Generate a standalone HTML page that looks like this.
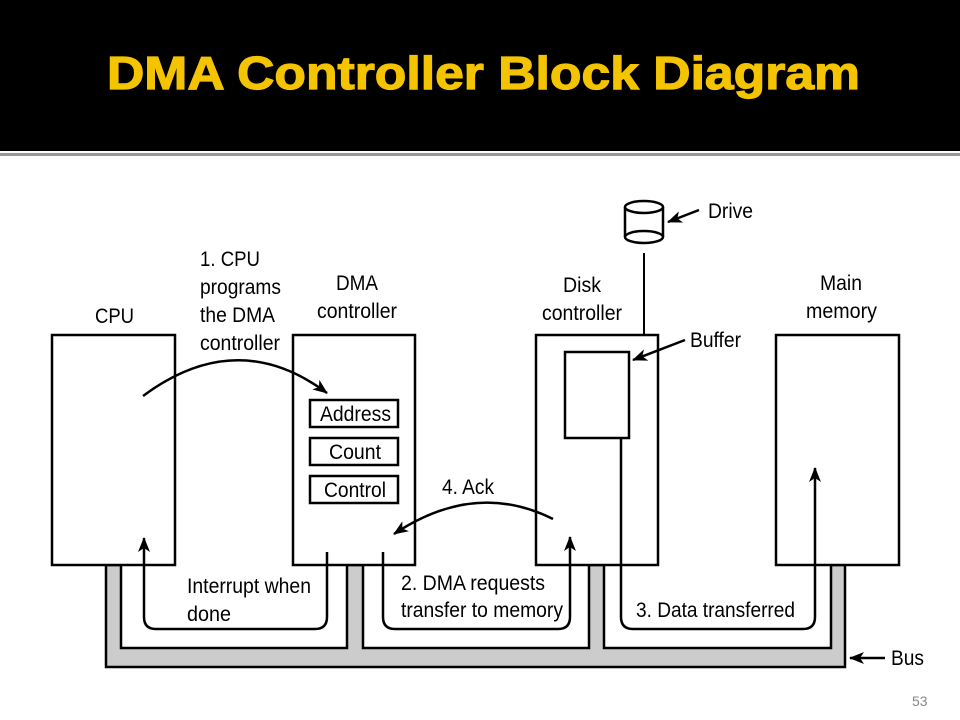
<!DOCTYPE html>
<html><head><meta charset="utf-8"><style>
html,body{margin:0;padding:0;background:#fff;}
svg{display:block;}
</style></head><body>
<svg width="960" height="720" viewBox="0 0 960 720" xmlns="http://www.w3.org/2000/svg" font-family="Liberation Sans, sans-serif">
<defs>
<marker id="ah" markerWidth="15" markerHeight="12" refX="14" refY="6" orient="auto" markerUnits="userSpaceOnUse">
<path d="M0,0 L15,6 L0,12 L4,6 Z" fill="#000"/>
</marker>
</defs>
<rect x="0" y="0" width="960" height="151" fill="#000"/>
<rect x="0" y="153" width="960" height="3" fill="#999"/>
<text x="107" y="89" font-size="46" font-weight="bold" fill="#f5c400" stroke="#f5c400" stroke-width="1.2" textLength="753" lengthAdjust="spacingAndGlyphs">DMA  Controller  Block  Diagram</text>

<!-- bus -->
<polygon points="106,565 106,667 845,667 845,565 831,565 831,648 604,648 604,565 589,565 589,648 363,648 363,565 347,565 347,648 121,648 121,565" fill="#cccccc" stroke="#000" stroke-width="2.5"/>

<g fill="#fff" stroke="#000" stroke-width="2.5">
<rect x="52" y="335" width="123" height="230"/>
<rect x="293" y="335" width="122" height="230"/>
<rect x="536" y="335" width="122" height="230"/>
<rect x="776" y="335" width="123" height="230"/>
<rect x="310" y="400" width="88" height="27"/>
<rect x="310" y="438" width="88" height="27"/>
<rect x="310" y="476" width="88" height="27"/>
<rect x="565" y="352" width="64" height="86"/>
</g>

<!-- drive -->
<g fill="#fff" stroke="#000" stroke-width="2.5">
<path d="M625,207 V237 A19,6 0 0 0 663,237 V207"/>
<ellipse cx="644" cy="207" rx="19" ry="6"/>
<path d="M625,237 A19,6 0 0 1 663,237" fill="none"/>
</g>
<line x1="644" y1="253" x2="644" y2="335" stroke="#000" stroke-width="2"/>

<g fill="none" stroke="#000" stroke-width="2.5">
<path d="M699,210 L668,222" marker-end="url(#ah)"/>
<path d="M685,340 L633,360" marker-end="url(#ah)"/>
<path d="M885,658 L850,658" marker-end="url(#ah)"/>
<path d="M143,396 Q237,326 327,393" marker-end="url(#ah)"/>
<path d="M553,519 Q475,480 394,534" marker-end="url(#ah)"/>
<path d="M327,552 V617 Q327,629 315,629 H156 Q144,629 144,617 V538" marker-end="url(#ah)"/>
<path d="M383,552 V617 Q383,629 395,629 H558 Q570,629 570,617 V537" marker-end="url(#ah)"/>
<path d="M621,438 V617 Q621,629 633,629 H803 Q815,629 815,617 V468" marker-end="url(#ah)"/>
</g>

<g font-size="21" fill="#000">
<text x="95" y="323" textLength="39" lengthAdjust="spacingAndGlyphs">CPU</text>
<text x="200" y="266" textLength="60" lengthAdjust="spacingAndGlyphs">1. CPU</text>
<text x="200" y="294" textLength="81" lengthAdjust="spacingAndGlyphs">programs</text>
<text x="200" y="322" textLength="75" lengthAdjust="spacingAndGlyphs">the DMA</text>
<text x="200" y="350" textLength="80" lengthAdjust="spacingAndGlyphs">controller</text>
<text x="336" y="290" textLength="42" lengthAdjust="spacingAndGlyphs">DMA</text>
<text x="317" y="318" textLength="80" lengthAdjust="spacingAndGlyphs">controller</text>
<text x="563" y="292" textLength="38" lengthAdjust="spacingAndGlyphs">Disk</text>
<text x="542" y="320" textLength="80" lengthAdjust="spacingAndGlyphs">controller</text>
<text x="820" y="290" textLength="42" lengthAdjust="spacingAndGlyphs">Main</text>
<text x="806" y="318" textLength="71" lengthAdjust="spacingAndGlyphs">memory</text>
<text x="708" y="218" textLength="45" lengthAdjust="spacingAndGlyphs">Drive</text>
<text x="690" y="347" textLength="51" lengthAdjust="spacingAndGlyphs">Buffer</text>
<text x="320" y="421" textLength="71" lengthAdjust="spacingAndGlyphs">Address</text>
<text x="329" y="459" textLength="52" lengthAdjust="spacingAndGlyphs">Count</text>
<text x="324" y="497" textLength="62" lengthAdjust="spacingAndGlyphs">Control</text>
<text x="442" y="494" textLength="52" lengthAdjust="spacingAndGlyphs">4. Ack</text>
<text x="187" y="593" textLength="124" lengthAdjust="spacingAndGlyphs">Interrupt when</text>
<text x="187" y="621" textLength="44" lengthAdjust="spacingAndGlyphs">done</text>
<text x="401" y="590" textLength="144" lengthAdjust="spacingAndGlyphs">2. DMA requests</text>
<text x="401" y="617" textLength="162" lengthAdjust="spacingAndGlyphs">transfer to memory</text>
<text x="636" y="617" textLength="159" lengthAdjust="spacingAndGlyphs">3. Data transferred</text>
<text x="891" y="665" textLength="33" lengthAdjust="spacingAndGlyphs">Bus</text>
</g>
<text x="912" y="706" font-size="14" fill="#888">53</text>
</svg>
</body></html>
